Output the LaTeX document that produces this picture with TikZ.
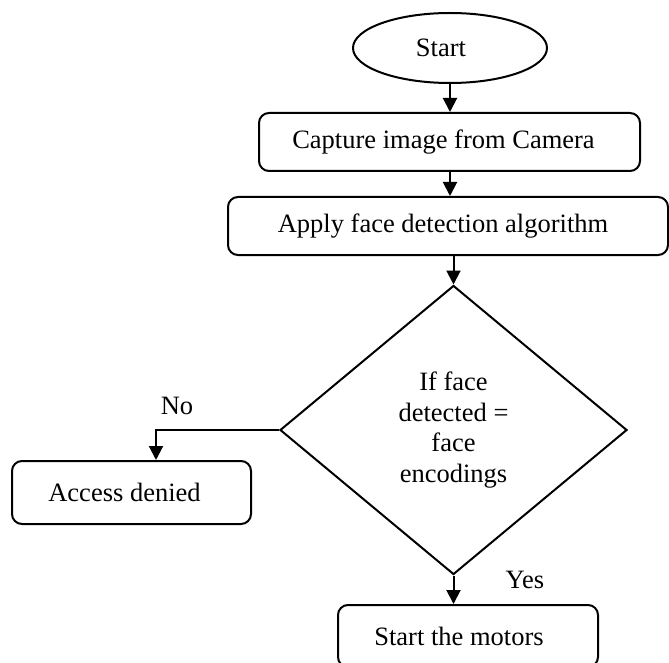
\documentclass[tikz,border=0pt]{standalone}
\usepackage{fontspec}
\setmainfont{Liberation Serif}
\usetikzlibrary{arrows.meta,shapes.geometric}
\begin{document}
\begin{tikzpicture}[x=1pt,y=-1pt,
  every node/.style={font=\fontsize{26.5}{30.5}\selectfont},
  box/.style={draw,line width=2pt,rounded corners=10pt,inner sep=0pt},
  flow/.style={line width=2pt,-{Triangle[length=14pt,width=14pt]}},
  plain/.style={line width=2pt}]
\useasboundingbox (0,0) rectangle (669,663);
\node[draw,ellipse,line width=2pt,minimum width=194pt,minimum height=70pt,inner sep=0pt] (start) at (450,48) {Start\hspace*{18pt}};
\node[box,minimum width=381pt,minimum height=58pt] (cap) at (449.5,142) {Capture image from Camera\hspace*{12pt}};
\node[box,minimum width=440pt,minimum height=58pt] (app) at (448,226) {Apply face detection algorithm\hspace*{10pt}};
\node[draw,diamond,line width=2pt,minimum width=347pt,minimum height=289pt,inner sep=0pt,align=center] (dec) at (453.5,430) {If face\\detected =\\face\\encodings\hspace*{0pt}};
\node[box,minimum width=239pt,minimum height=63pt] (acc) at (131.5,492.5) {Access denied\hspace*{14pt}};
\node[box,minimum width=260pt,minimum height=62pt] (mot) at (468,636) {Start the motors\hspace*{18pt}};
\node (no) at (177,406) {No};
\node (yes) at (525,580) {Yes};
\draw[flow] (start.south) -- (start.south |- cap.north);
\draw[flow] (start.south |- cap.south) -- (start.south |- app.north);
\draw[flow] (dec.north |- app.south) -- (dec.north);
\draw[flow] (dec.west) -| ([xshift=24.5pt]acc.north);
\draw[flow] (dec.south) -- (dec.south |- mot.north);
\end{tikzpicture}
\end{document}
